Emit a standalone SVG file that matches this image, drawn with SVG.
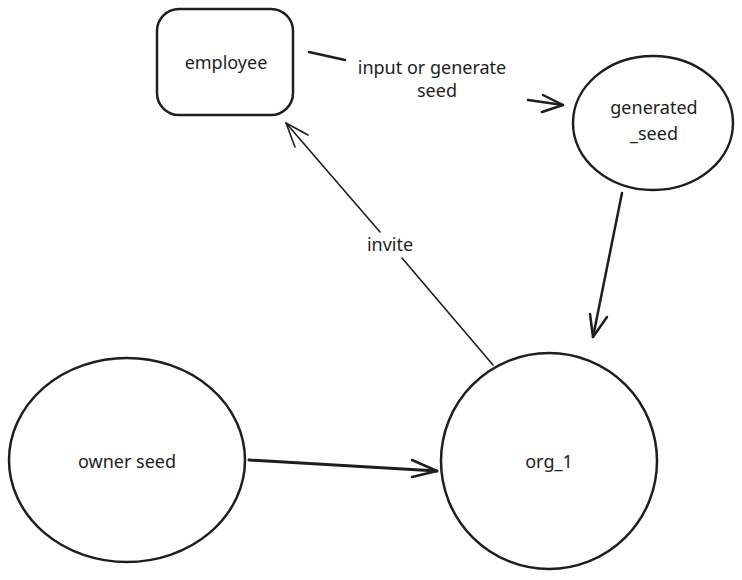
<svg xmlns="http://www.w3.org/2000/svg" width="742" height="580" viewBox="0 0 742 580">
<style>
.shape{fill:none;stroke:#1e1e1e;stroke-width:2.5;stroke-linecap:round;stroke-linejoin:round}
.line{fill:none;stroke:#1e1e1e;stroke-width:2.5;stroke-linecap:round;stroke-linejoin:round}
.thin{fill:none;stroke:#1e1e1e;stroke-width:1.6;stroke-linecap:round;stroke-linejoin:round}
.label{font-family:"Virgil","Noto Sans","DejaVu Sans",sans-serif;font-size:18px;fill:#1e1e1e;text-anchor:middle}
</style>
<rect width="742" height="580" fill="#ffffff"/>
<g id="connectors">
  <g id="edge-input">
    <path class="line" d="M309,52 L345,60"/>
    <path class="line" d="M528,100 L563,105"/>
    <path class="line" d="M543,95 L563,105 L542,112"/>
    <text class="label" x="432" y="74">input or generate</text>
    <text class="label" x="437" y="97">seed</text>
  </g>
  <g id="edge-generated-org">
    <path class="line" d="M622,193 L593,337"/>
    <path class="line" d="M590,314 L593,337 L607,317"/>
  </g>
  <g id="edge-invite">
    <path class="thin" d="M493,365 L402,258"/>
    <path class="thin" d="M380,232 L286,123"/>
    <path class="thin" d="M308,135 L286,123 L295,147"/>
    <text class="label" x="390" y="251">invite</text>
  </g>
  <g id="edge-owner-org">
    <path class="line" style="stroke-width:3" d="M249,460 L437,471"/>
    <path class="line" d="M412,460 L437,471 L412,477"/>
  </g>
</g>
<g id="employee">
  <rect class="shape" x="157" y="9" width="136" height="106" rx="22" ry="22"/>
  <text class="label" x="226" y="69">employee</text>
</g>
<g id="generated_seed">
  <ellipse class="shape" cx="653" cy="123" rx="80" ry="67"/>
  <text class="label" x="654" y="114">generated</text>
  <text class="label" x="654" y="140">_seed</text>
</g>
<g id="owner_seed">
  <ellipse class="shape" cx="127" cy="460" rx="118" ry="102"/>
  <text class="label" x="127" y="468">owner seed</text>
</g>
<g id="org_1">
  <ellipse class="shape" cx="549" cy="461" rx="108" ry="108"/>
  <text class="label" x="549" y="468">org_1</text>
</g>
</svg>
